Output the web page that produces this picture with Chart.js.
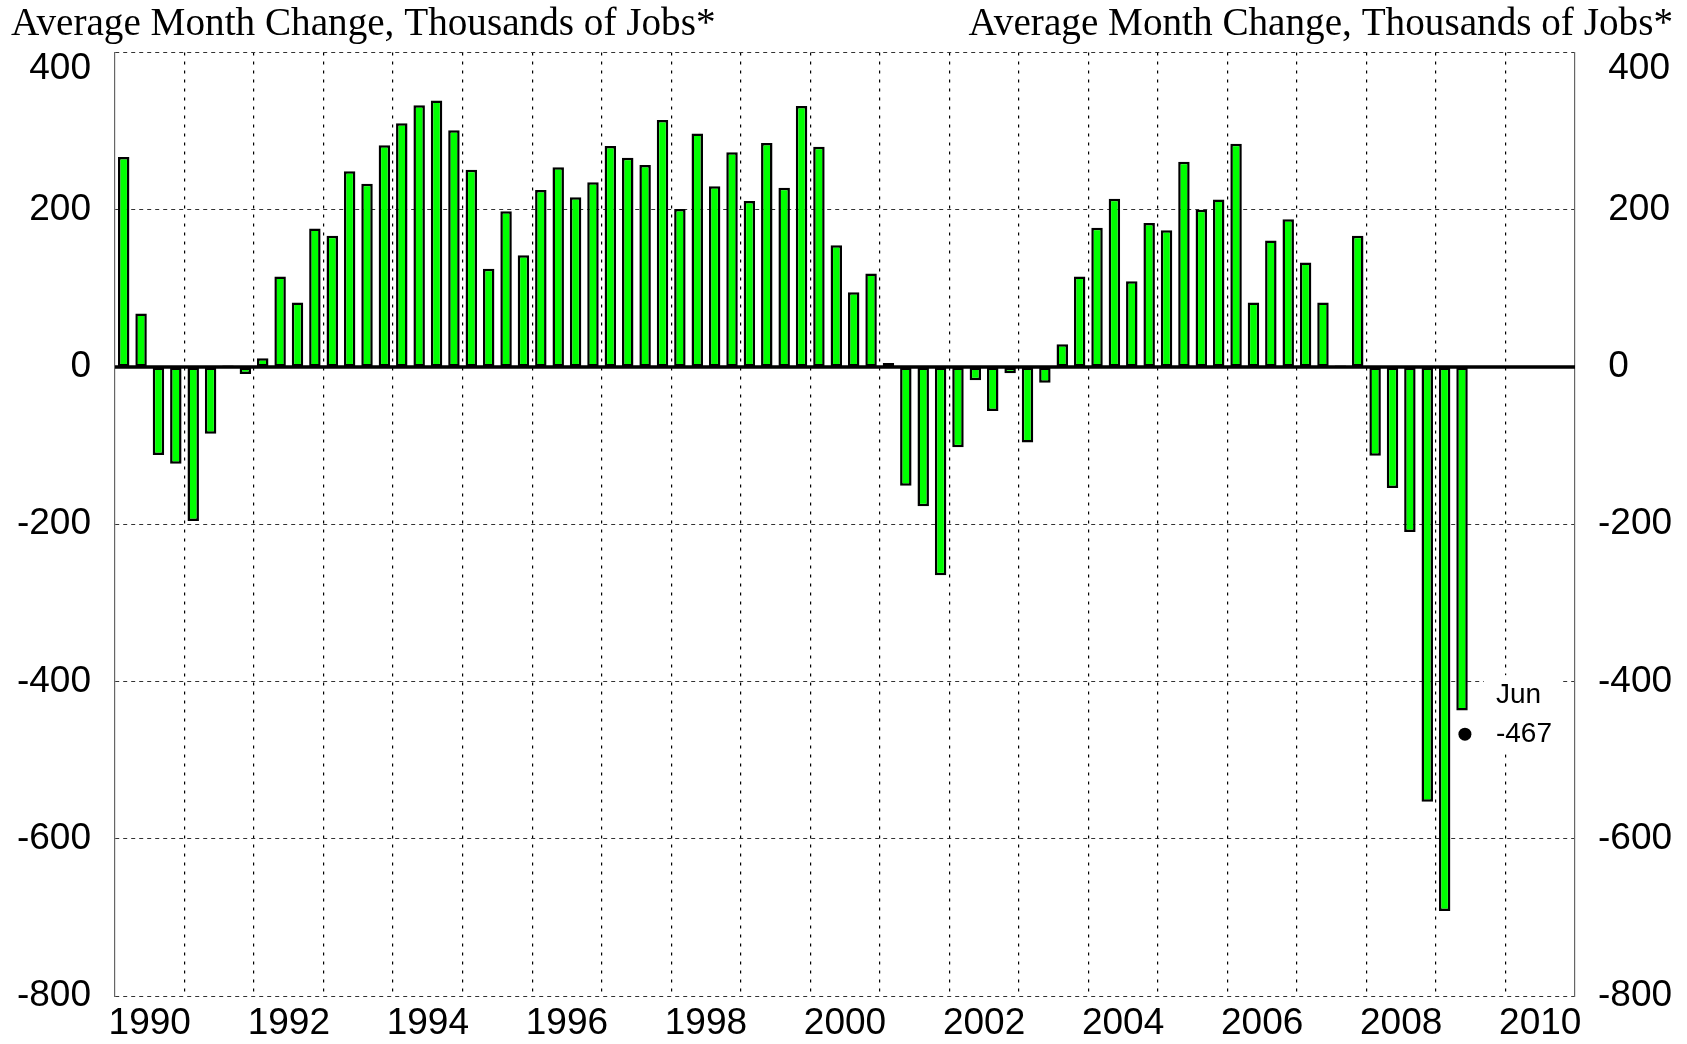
<!DOCTYPE html>
<html>
<head>
<meta charset="utf-8">
<title>Average Month Change, Thousands of Jobs</title>
<script src="https://cdn.jsdelivr.net/npm/chart.js@4.4.1/dist/chart.umd.min.js"></script>
<style>
  html, body { margin: 0; padding: 0; background: #ffffff; }
  #wrap { width: 1687px; height: 1044px; position: relative; }
  canvas { display: block; }
</style>
</head>
<body>
<div id="wrap"><canvas id="chart" width="1687" height="1044"></canvas></div>
<script>
// ---------------- data ----------------
const titleText = 'Average Month Change, Thousands of Jobs*';
const startYear = 1990;
// quarterly average of monthly payroll change, thousands of jobs (1990Q1 .. 2009Q2)
const avgMonthlyChange = [
  267, 68, -112, -123,    // 1990
  -196, -85, 2, -9,       // 1991
  11, 115, 82, 176,       // 1992
  167, 249, 233, 282,     // 1993
  310, 333, 339, 301,     // 1994
  251, 125, 198, 142,     // 1995
  225, 254, 216, 235,     // 1996
  281, 266, 257, 314,     // 1997
  201, 297, 230, 273,     // 1998
  211, 285, 228, 332,     // 1999
  280, 155, 95, 119,      // 2000
  5, -151, -177, -265,    // 2001
  -102, -17, -56, -8,     // 2002
  -96, -20, 29, 115,      // 2003
  177, 214, 109, 183,     // 2004
  174, 261, 200, 213,     // 2005
  284, 82, 161, 188,      // 2006
  133, 82, 2, 167,        // 2007
  -113, -154, -210, -553, // 2008
  -692, -437              // 2009
];
const yearLabels = [1990, 1992, 1994, 1996, 1998, 2000, 2002, 2004, 2006, 2008, 2010];
const yearGrid = [1990, 1991, 1992, 1993, 1994, 1995, 1996, 1997, 1998, 1999, 2000,
                  2001, 2002, 2003, 2004, 2005, 2006, 2007, 2008, 2009, 2010, 2011];
const yTicks = [-800, -600, -400, -200, 0, 200, 400];
const latestMonthName = 'Jun';
const latestYear = 2009;
const latestMonth = 6;
const latestValue = -467;

// ---------------- derived ----------------
const barPoints = avgMonthlyChange.map((v, i) => ({ x: startYear + (i + 0.5) / 4, y: v }));
const latestPoint = [{ x: latestYear + (latestMonth - 1) / 12, y: latestValue }];

const sansFont = "'Liberation Sans', Arial, Helvetica, sans-serif";
const serifFont = "'Liberation Serif', 'Times New Roman', Times, serif";

const overlayPlugin = {
  id: 'overlay',
  beforeDatasetsDraw(chart) {
    const { ctx } = chart;
    const xs = chart.scales.x, ys = chart.scales.y;
    const px = xs.getPixelForValue(latestPoint[0].x);
    const py = ys.getPixelForValue(latestPoint[0].y);
    ctx.save();
    ctx.font = '28px ' + sansFont;
    const w = Math.max(ctx.measureText(latestMonthName).width, ctx.measureText(String(latestValue)).width);
    const tx = px + 31;
    ctx.fillStyle = '#ffffff';
    ctx.fillRect(tx - 12, py - 39 - 20, w + 22, 39 + 40);
    ctx.restore();
  },
  afterDatasetsDraw(chart) {
    const { ctx, chartArea } = chart;
    const xs = chart.scales.x, ys = chart.scales.y;
    // zero line
    const y0 = ys.getPixelForValue(0);
    ctx.save();
    ctx.strokeStyle = '#000000';
    ctx.lineWidth = 3.5;
    ctx.beginPath();
    ctx.moveTo(chartArea.left, y0);
    ctx.lineTo(chartArea.right, y0);
    ctx.stroke();
    // annotation
    const px = xs.getPixelForValue(latestPoint[0].x);
    const py = ys.getPixelForValue(latestPoint[0].y);
    ctx.font = '28px ' + sansFont;
    ctx.fillStyle = '#000000';
    ctx.textAlign = 'left';
    ctx.textBaseline = 'middle';
    ctx.fillText(latestMonthName, px + 31, py - 39);
    ctx.fillText(String(latestValue), px + 31, py);
    ctx.restore();
  },
  afterDraw(chart) {
    const { ctx } = chart;
    ctx.save();
    ctx.font = '39.2px ' + serifFont;
    ctx.fillStyle = '#000000';
    ctx.textBaseline = 'alphabetic';
    ctx.textAlign = 'left';
    ctx.fillText(titleText, 11, 35);
    ctx.textAlign = 'right';
    ctx.fillText(titleText, 1673, 35);
    ctx.restore();
  }
};

const yTickLabel = (right) => (value) => {
  const s = String(value);
  const t = (right && value >= 0) ? ' ' + s : s;
  return value === 400 ? ['', t] : t;
};

const fixVertical = (w) => (s) => { s.width = w; s.paddingTop = 0; s.paddingBottom = 0; };
const fixHorizontal = (h) => (s) => { s.height = h; s.paddingLeft = 0; s.paddingRight = 0; };

new Chart(document.getElementById('chart'), {
  data: {
    datasets: [
      {
        type: 'scatter',
        data: latestPoint,
        xAxisID: 'x',
        yAxisID: 'y',
        pointRadius: 6.5,
        pointHoverRadius: 6.5,
        backgroundColor: '#000000',
        borderWidth: 0,
        order: 0
      },
      {
        type: 'bar',
        data: barPoints,
        xAxisID: 'x',
        yAxisID: 'y',
        backgroundColor: '#00ff00',
        borderColor: '#000000',
        borderWidth: 2.5,
        borderSkipped: false,
        barPercentage: 0.66,
        categoryPercentage: 1.0,
        order: 1
      }
    ]
  },
  options: {
    responsive: false,
    devicePixelRatio: 1,
    animation: false,
    events: [],
    layout: { padding: { top: 52.5, left: 0, right: 0, bottom: 0 } },
    plugins: { legend: { display: false }, tooltip: { enabled: false }, title: { display: false } },
    scales: {
      x: {
        type: 'linear',
        position: 'bottom',
        offset: false,
        min: 1990,
        max: 2011,
        afterBuildTicks: (s) => { s.ticks = yearGrid.map(v => ({ value: v })); },
        afterFit: fixHorizontal(0),
        ticks: { display: false },
        grid: {
          offset: false,
          drawTicks: false,
          lineWidth: 1.2,
          color: (c) => (c.tick && (c.tick.value === 1990 || c.tick.value === 2011)) ? 'rgba(0,0,0,0)' : '#000000'
        },
        border: { display: false, dash: [3, 6] }
      },
      xLab: {
        type: 'linear',
        position: 'bottom',
        offset: false,
        min: 1990,
        max: 2011,
        afterBuildTicks: (s) => { s.ticks = yearLabels.map(v => ({ value: v + 0.5 })); },
        afterFit: fixHorizontal(48),
        ticks: {
          autoSkip: false,
          maxRotation: 0,
          padding: 9.5,
          color: '#000000',
          font: { family: sansFont, size: 37, lineHeight: '37px' },
          callback: (v) => String(Math.floor(v))
        },
        grid: { display: false, drawTicks: false, offset: false },
        border: { display: false }
      },
      y: {
        type: 'linear',
        position: 'left',
        min: -800,
        max: 400,
        afterBuildTicks: (s) => { s.ticks = yTicks.map(v => ({ value: v })); },
        afterFit: fixVertical(115),
        ticks: {
          padding: 24,
          color: '#000000',
          font: { family: sansFont, size: 37, lineHeight: '32px' },
          callback: yTickLabel(false)
        },
        grid: {
          drawTicks: false,
          lineWidth: 1,
          color: (c) => (c.tick && c.tick.value === 0) ? 'rgba(0,0,0,0)' : '#333333'
        },
        border: { display: true, color: '#666666', width: 1.2, dash: [4, 4] }
      },
      y2: {
        type: 'linear',
        position: 'right',
        min: -800,
        max: 400,
        afterBuildTicks: (s) => { s.ticks = yTicks.map(v => ({ value: v })); },
        afterFit: fixVertical(112),
        ticks: {
          padding: 23,
          color: '#000000',
          font: { family: sansFont, size: 37, lineHeight: '32px' },
          callback: yTickLabel(true)
        },
        grid: { display: false, drawTicks: false, drawOnChartArea: false },
        border: { display: true, color: '#666666', width: 1.2 }
      }
    }
  },
  plugins: [overlayPlugin]
});
</script>
</body>
</html>
